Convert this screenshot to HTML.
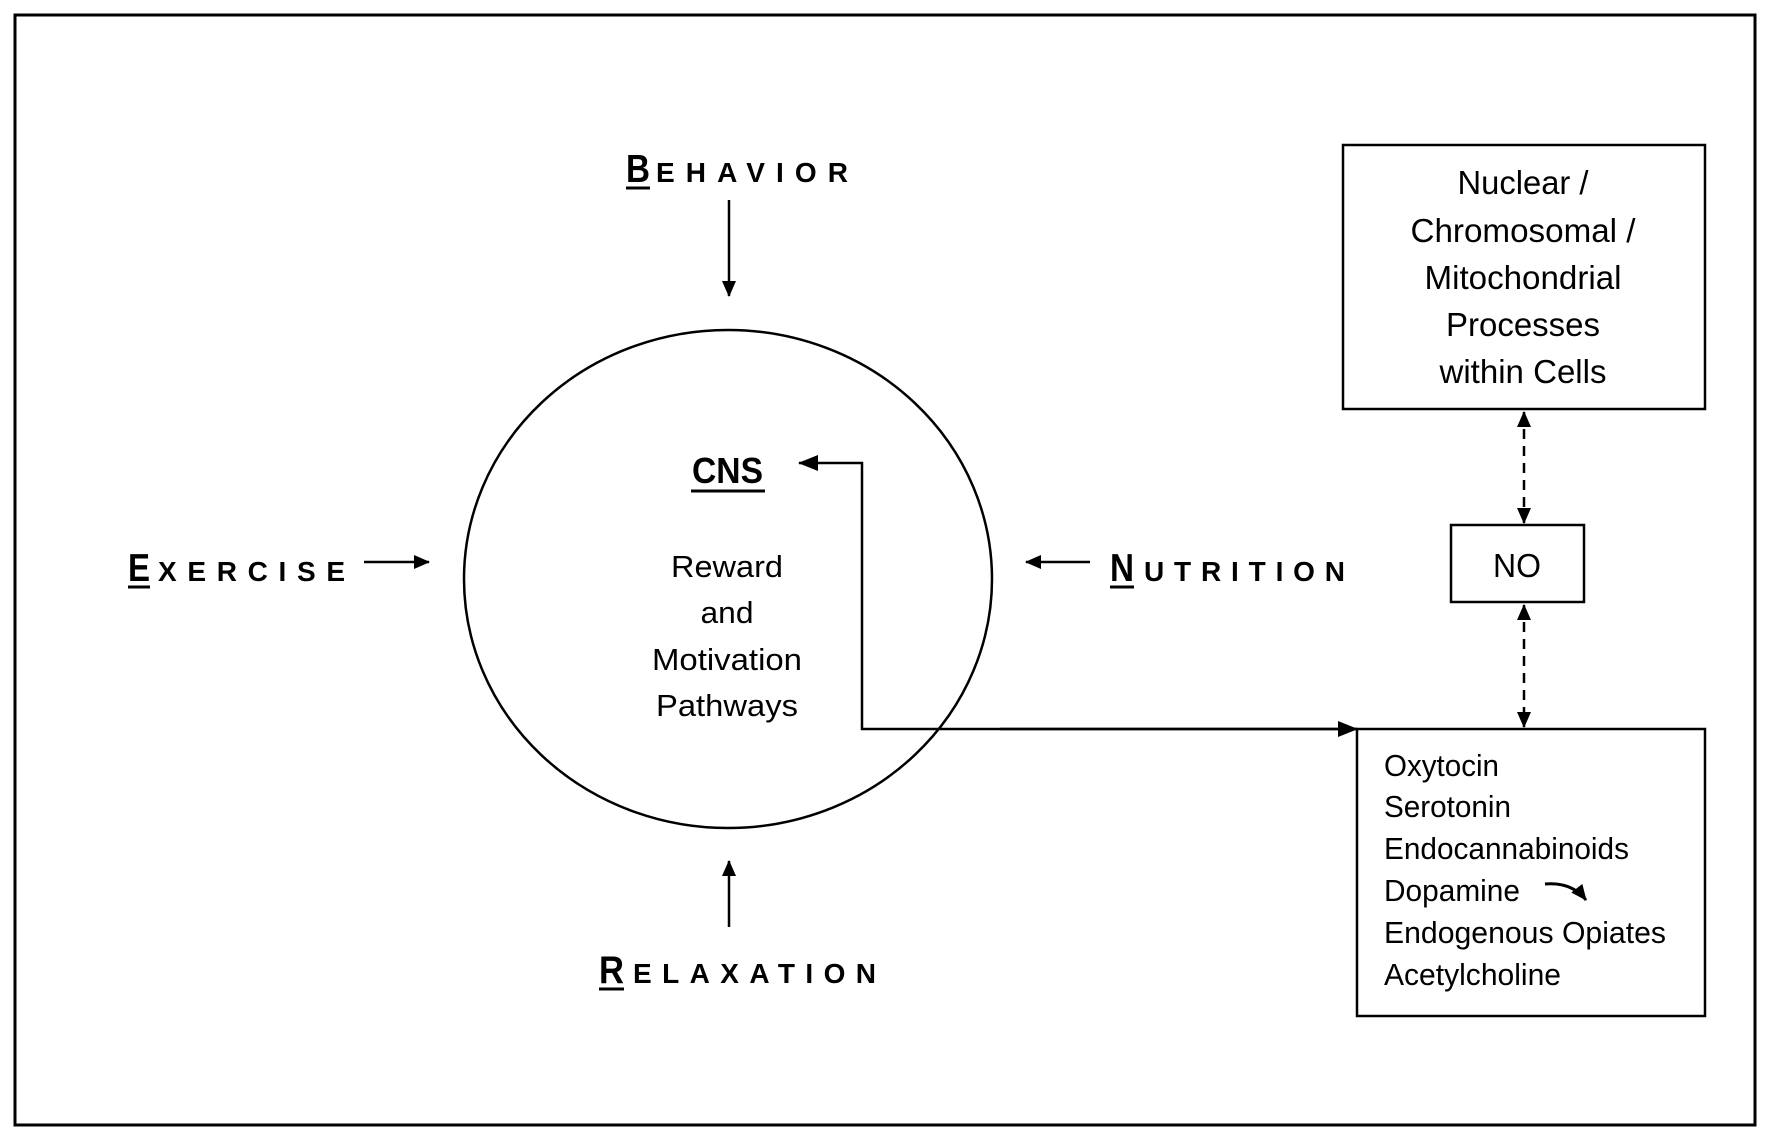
<!DOCTYPE html>
<html><head><meta charset="utf-8"><style>
html,body{margin:0;padding:0;background:#fff;}
svg{display:block;}
text{font-family:"Liberation Sans",Arial,sans-serif;fill:#000;}
</style></head><body>
<svg width="1772" height="1144" viewBox="0 0 1772 1144" xmlns="http://www.w3.org/2000/svg">
<defs>
<marker id="ah" markerWidth="10" markerHeight="10" refX="9" refY="5" orient="auto" markerUnits="userSpaceOnUse" viewBox="0 0 10 10">
<path d="M0,0 L10,5 L0,10 z" fill="#000"/>
</marker>
<marker id="ahb" markerWidth="20" markerHeight="20" refX="19" refY="10" orient="auto" markerUnits="userSpaceOnUse" viewBox="0 0 20 20">
<path d="M0,2 L20,10 L0,18 z" fill="#000"/>
</marker>
<marker id="ahs" markerWidth="16" markerHeight="16" refX="15" refY="8" orient="auto-start-reverse" markerUnits="userSpaceOnUse" viewBox="0 0 16 16">
<path d="M0,1 L16,8 L0,15 z" fill="#000"/>
</marker>
</defs>
<rect x="15" y="15" width="1740" height="1110" fill="none" stroke="#000" stroke-width="3"/>
<ellipse cx="728" cy="579" rx="264" ry="249" fill="none" stroke="#000" stroke-width="2.5"/>

<!-- Behavior -->
<text x="626" y="182" font-size="39" font-weight="bold" textLength="24" lengthAdjust="spacingAndGlyphs">B</text>
<text x="656" y="182" font-size="28" font-weight="bold" textLength="192" lengthAdjust="spacing">EHAVIOR</text>
<line x1="626" y1="188" x2="650" y2="188" stroke="#000" stroke-width="3"/>
<line x1="729" y1="200" x2="729" y2="296" stroke="#000" stroke-width="2.5" marker-end="url(#ahs)"/>

<!-- Exercise -->
<text x="128" y="581" font-size="39" font-weight="bold" textLength="22" lengthAdjust="spacingAndGlyphs">E</text>
<text x="158" y="581" font-size="28" font-weight="bold" textLength="187" lengthAdjust="spacing">XERCISE</text>
<line x1="128" y1="587" x2="150" y2="587" stroke="#000" stroke-width="3"/>
<line x1="364" y1="562" x2="429" y2="562" stroke="#000" stroke-width="2.5" marker-end="url(#ahs)"/>

<!-- Nutrition -->
<text x="1110" y="581" font-size="39" font-weight="bold" textLength="24" lengthAdjust="spacingAndGlyphs">N</text>
<text x="1144" y="581" font-size="28" font-weight="bold" textLength="201" lengthAdjust="spacing">UTRITION</text>
<line x1="1110" y1="587" x2="1134" y2="587" stroke="#000" stroke-width="3"/>
<line x1="1090" y1="562" x2="1026" y2="562" stroke="#000" stroke-width="2.5" marker-end="url(#ahs)"/>

<!-- Relaxation -->
<text x="599" y="983" font-size="39" font-weight="bold" textLength="25" lengthAdjust="spacingAndGlyphs">R</text>
<text x="633" y="983" font-size="28" font-weight="bold" textLength="243" lengthAdjust="spacing">ELAXATION</text>
<line x1="599" y1="989" x2="624" y2="989" stroke="#000" stroke-width="3"/>
<line x1="729" y1="927" x2="729" y2="861" stroke="#000" stroke-width="2.5" marker-end="url(#ahs)"/>

<!-- CNS -->
<text x="692" y="483" font-size="36" font-weight="bold" textLength="71" lengthAdjust="spacingAndGlyphs">CNS</text>
<line x1="691" y1="491" x2="765" y2="491" stroke="#000" stroke-width="3"/>
<g font-size="31" text-anchor="middle">
<text x="727" y="577" textLength="112" lengthAdjust="spacingAndGlyphs">Reward</text>
<text x="727" y="623" textLength="53" lengthAdjust="spacingAndGlyphs">and</text>
<text x="727" y="670" textLength="150" lengthAdjust="spacingAndGlyphs">Motivation</text>
<text x="727" y="716" textLength="142" lengthAdjust="spacingAndGlyphs">Pathways</text>
</g>
<polyline points="1357,729 862,729 862,463 799,463" fill="none" stroke="#000" stroke-width="2.5" marker-end="url(#ahb)"/>
<line x1="1000" y1="729" x2="1357" y2="729" stroke="#000" stroke-width="2.5" marker-end="url(#ahb)"/>

<!-- Top right box -->
<rect x="1343" y="145" width="362" height="264" fill="none" stroke="#000" stroke-width="2.5"/>
<g font-size="33" text-anchor="middle">
<text x="1523" y="194" textLength="131" lengthAdjust="spacingAndGlyphs">Nuclear /</text>
<text x="1523" y="242" textLength="225" lengthAdjust="spacingAndGlyphs">Chromosomal /</text>
<text x="1523" y="289" textLength="197" lengthAdjust="spacingAndGlyphs">Mitochondrial</text>
<text x="1523" y="336" textLength="154" lengthAdjust="spacingAndGlyphs">Processes</text>
<text x="1523" y="383" textLength="167" lengthAdjust="spacingAndGlyphs">within Cells</text>
</g>

<!-- NO box -->
<rect x="1451" y="525" width="133" height="77" fill="none" stroke="#000" stroke-width="2.5"/>
<text x="1517" y="577" font-size="33" text-anchor="middle" textLength="48" lengthAdjust="spacingAndGlyphs">NO</text>

<line x1="1524" y1="412" x2="1524" y2="523" stroke="#000" stroke-width="2.5" stroke-dasharray="10,7" marker-start="url(#ahs)" marker-end="url(#ahs)"/>
<line x1="1524" y1="605" x2="1524" y2="727" stroke="#000" stroke-width="2.5" stroke-dasharray="10,7" marker-start="url(#ahs)" marker-end="url(#ahs)"/>

<!-- Bottom right box -->
<rect x="1357" y="729" width="348" height="287" fill="none" stroke="#000" stroke-width="2.5"/>
<g font-size="31">
<text x="1384" y="776" textLength="115" lengthAdjust="spacingAndGlyphs">Oxytocin</text>
<text x="1384" y="817" textLength="127" lengthAdjust="spacingAndGlyphs">Serotonin</text>
<text x="1384" y="859" textLength="245" lengthAdjust="spacingAndGlyphs">Endocannabinoids</text>
<text x="1384" y="901" textLength="136" lengthAdjust="spacingAndGlyphs">Dopamine</text>
<text x="1384" y="943" textLength="282" lengthAdjust="spacingAndGlyphs">Endogenous Opiates</text>
<text x="1384" y="985" textLength="177" lengthAdjust="spacingAndGlyphs">Acetylcholine</text>
</g>
<path d="M1545,884 Q1572,882 1586,900" fill="none" stroke="#000" stroke-width="3" marker-end="url(#ahs)"/>
</svg>
</body></html>
